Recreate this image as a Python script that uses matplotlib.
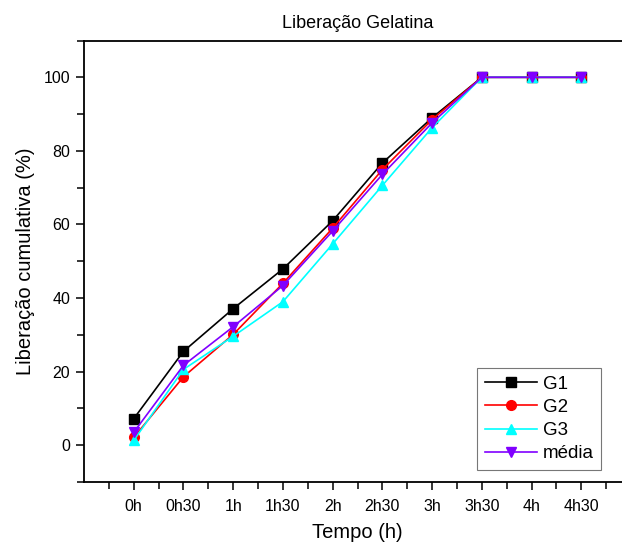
import matplotlib
matplotlib.use("Agg")
import matplotlib.pyplot as plt
from matplotlib.ticker import MultipleLocator, FixedLocator

plt.rcParams['font.family'] = ['Liberation Sans', 'DejaVu Sans']

tempos = ["0h", "0h30", "1h", "1h30", "2h", "2h30", "3h", "3h30", "4h", "4h30"]
g1 = [7.2, 25.5, 37.1, 47.9, 61.0, 76.7, 89.0, 100, 100, 100]
g2 = [2.1, 18.6, 30.1, 44.0, 59.0, 74.9, 88.5, 100, 100, 100]
g3 = [1.3, 20.6, 29.6, 39.0, 54.7, 70.6, 86.3, 100, 100, 100]
media = [3.5, 21.7, 32.2, 43.4, 58.2, 73.6, 87.6, 100, 100, 100]

fig = plt.figure(figsize=(6.22, 5.47), dpi=100)
ax = fig.add_axes([84/622, 65/547, 547/622, 441.5/547])

x = list(range(len(tempos)))
lw = 1.2
ax.plot(x, g1, color='black', marker='s', ms=7, lw=lw, label='G1')
ax.plot(x, g2, color='red', marker='o', ms=7, lw=lw, label='G2')
ax.plot(x, g3, color='#00FFFF', marker='^', ms=7.5, lw=lw, label='G3')
ax.plot(x, media, color='#8000FF', marker='v', ms=7.5, lw=lw, label='média')

ax.set_xlim(-1, 10)
ax.set_ylim(-10, 110)
ax.set_xticks(x)
ax.set_xticklabels(tempos)
ax.xaxis.set_minor_locator(FixedLocator([i - 0.5 for i in range(0, 11)]))
ax.set_yticks([0, 20, 40, 60, 80, 100])
ax.yaxis.set_minor_locator(MultipleLocator(10))

ax.tick_params(which='both', direction='out', width=1.1, labelsize=11.5)
ax.tick_params(which='major', length=6)
ax.tick_params(which='minor', length=5)
ax.tick_params(axis='x', which='major', pad=6)
ax.tick_params(axis='y', which='major', pad=4)
for s in ax.spines.values():
    s.set_linewidth(1.3)

ax.set_title("Liberação Gelatina", fontsize=13, pad=9)
ax.set_xlabel("Tempo (h)", fontsize=14.5, labelpad=7)
ax.set_ylabel("Liberação cumulativa (%)", fontsize=14.5, labelpad=6)

leg = ax.legend(loc='lower left', bbox_to_anchor=((477-84)/547, (547-472-65)/441.5 + 0.005),
                fontsize=13.5, frameon=True, fancybox=False, edgecolor='#555555',
                handlelength=2.8, labelspacing=0.32, borderpad=0.4, handletextpad=0.3,
                borderaxespad=0)
leg.get_frame().set_linewidth(0.8)

fig.savefig("out.png", dpi=100)
